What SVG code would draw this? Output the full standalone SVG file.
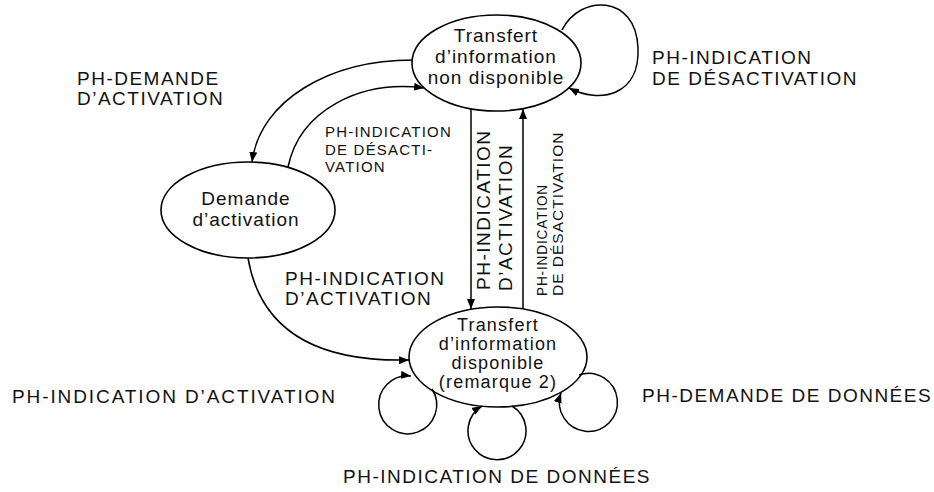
<svg xmlns="http://www.w3.org/2000/svg" width="934" height="492" viewBox="0 0 934 492">
<defs>
<style>
.node ellipse{fill:none;stroke:#000;stroke-width:1.6}
.edges path,.edges line{fill:none;stroke:#000;stroke-width:1.5}
text{font-family:"Liberation Sans",Arial,Helvetica,sans-serif;fill:#111}
.st{font-size:19px;letter-spacing:1px;text-anchor:middle}
.st2{font-size:18px;letter-spacing:1.2px;text-anchor:middle}
.lbl{font-size:19px;letter-spacing:1.5px}
.sm{font-size:15px;letter-spacing:1.2px}
.xs{font-size:15.5px;letter-spacing:1px}
</style>
<marker id="ah" viewBox="0 0 10 8" refX="10" refY="4" markerWidth="10" markerHeight="8" markerUnits="userSpaceOnUse" orient="auto">
<path d="M0,0 L10,4 L0,8 z" fill="#000"/>
</marker>
</defs>
<rect width="934" height="492" fill="#fff"/>

<g id="n-non-disponible" class="node">
<ellipse cx="496.5" cy="63" rx="84.5" ry="48"/>
<text class="st" x="496" y="42">Transfert</text>
<text class="st" x="496" y="63">d’information</text>
<text class="st" x="496" y="84">non disponible</text>
</g>

<g id="n-demande" class="node">
<ellipse cx="248" cy="210" rx="87" ry="48"/>
<text class="st" x="246" y="205">Demande</text>
<text class="st" x="246" y="226">d’activation</text>
</g>

<g id="n-disponible" class="node">
<ellipse cx="498" cy="357" rx="89" ry="50"/>
<text class="st2" x="498" y="331">Transfert</text>
<text class="st2" x="498" y="350">d’information</text>
<text class="st2" x="498" y="369">disponible</text>
<text class="st2" x="498" y="388">(remarque 2)</text>
</g>

<g id="connectors" class="edges">
<path d="M413,60 C330,60 260,100 252,162" marker-end="url(#ah)"/>
<path d="M288,167 C300,110 360,80 424,88" marker-end="url(#ah)"/>
<path d="M248,258 C262,340 330,362 409,360" marker-end="url(#ah)"/>
<line x1="471" y1="109" x2="471" y2="309" marker-end="url(#ah)"/>
<line x1="523" y1="309" x2="523" y2="109" marker-end="url(#ah)"/>
<path d="M562,30 C580,-6 636,-6 638,48 C640,96 600,104 569,88" marker-end="url(#ah)"/>
<path d="M432,389 A29,29 0 1 1 411,376" marker-end="url(#ah)"/>
<path d="M512,406 A29,29 0 1 1 482,406" marker-end="url(#ah)"/>
<path d="M579,375 A29,29 0 1 1 561,393" marker-end="url(#ah)"/>
</g>

<g id="labels">
<text class="lbl" x="77" y="85">PH-DEMANDE</text>
<text class="lbl" x="77" y="105">D’ACTIVATION</text>
<text class="sm" x="325" y="137">PH-INDICATION</text>
<text class="sm" x="325" y="155">DE DÉSACTI-</text>
<text class="sm" x="325" y="172">VATION</text>
<text class="lbl" x="652" y="64">PH-INDICATION</text>
<text class="lbl" x="652" y="85">DE DÉSACTIVATION</text>
<text class="lbl" x="285" y="285">PH-INDICATION</text>
<text class="lbl" x="285" y="305">D’ACTIVATION</text>
<text class="lbl" transform="translate(490,290) rotate(-90)">PH-INDICATION</text>
<text class="lbl" transform="translate(512,291) rotate(-90)">D’ACTIVATION</text>
<text class="xs" transform="translate(547,296) rotate(-90)" textLength="112" lengthAdjust="spacingAndGlyphs">PH-INDICATION</text>
<text class="xs" transform="translate(563,296) rotate(-90)">DE DÉSACTIVATION</text>
<text class="lbl" x="12" y="403" style="letter-spacing:1.9px">PH-INDICATION D’ACTIVATION</text>
<text class="lbl" x="642" y="402">PH-DEMANDE DE DONNÉES</text>
<text class="lbl" x="497" y="483" text-anchor="middle">PH-INDICATION DE DONNÉES</text>
</g>
</svg>
